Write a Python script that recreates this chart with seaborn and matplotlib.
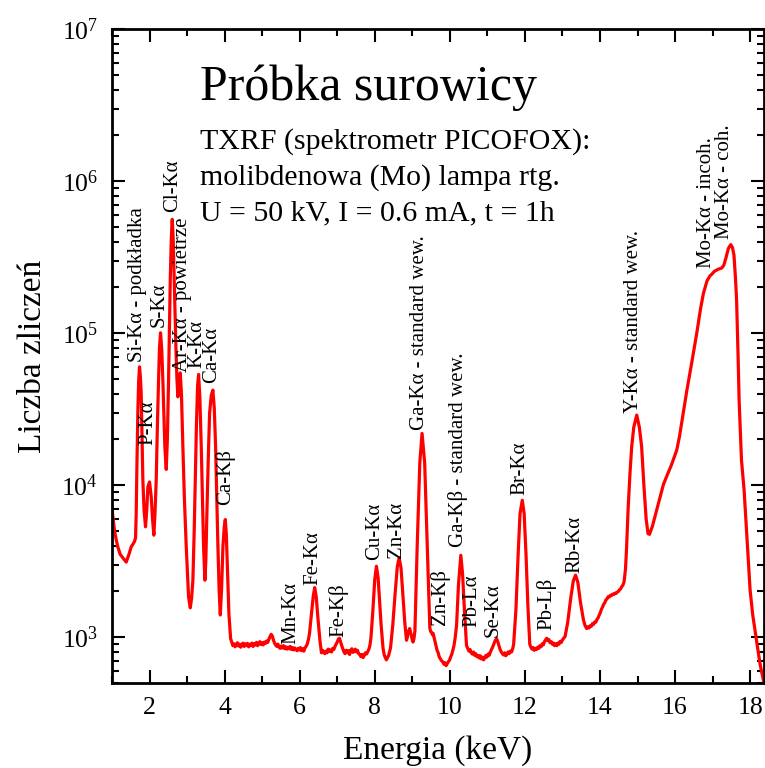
import numpy as np
import pandas as pd
import matplotlib
matplotlib.use('Agg')
import matplotlib.pyplot as plt
import seaborn as sns
from matplotlib.ticker import MultipleLocator, LogLocator, NullFormatter

# ---- spectrum ----
energy_kev = [
    1.005, 1.03, 1.067, 1.11, 1.155, 1.22, 1.30, 1.379, 1.45, 1.512, 1.56, 1.60, 1.627,
    1.645, 1.665, 1.688, 1.71, 1.733, 1.755, 1.778, 1.80, 1.822, 1.855, 1.893, 1.925,
    1.955, 2.0, 2.045, 2.08, 2.115, 2.145, 2.178, 2.21, 2.24, 2.265, 2.293, 2.325, 2.355,
    2.385, 2.408, 2.445, 2.475, 2.507, 2.532, 2.552, 2.58, 2.605, 2.63, 2.658, 2.68,
    2.702, 2.73, 2.755, 2.785, 2.818, 2.85, 2.888, 2.93, 2.978, 3.04, 3.085, 3.12, 3.155,
    3.19, 3.218, 3.25, 3.28, 3.307, 3.34, 3.378, 3.41, 3.44, 3.475, 3.50, 3.528, 3.565,
    3.6, 3.645, 3.688, 3.725, 3.76, 3.79, 3.822, 3.855, 3.885, 3.92, 3.955, 3.99, 4.018,
    4.045, 4.072, 4.115, 4.16,
    4.19, 4.22, 4.25, 4.28, 4.31, 4.34, 4.37, 4.40, 4.43, 4.46, 4.49, 4.52, 4.55, 4.58,
    4.61, 4.64, 4.67, 4.70, 4.73, 4.76, 4.79, 4.82, 4.85, 4.88, 4.91, 4.94, 4.97, 5.00,
    5.03, 5.06, 5.09, 5.12, 5.15, 5.18, 5.21, 5.24, 5.27, 5.30, 5.33, 5.36, 5.39, 5.42,
    5.45, 5.48, 5.51, 5.54, 5.57, 5.60, 5.63, 5.66, 5.69, 5.72, 5.75, 5.78, 5.81, 5.84,
    5.87, 5.90, 5.93, 5.96, 5.99, 6.02, 6.05, 6.08, 6.11, 6.14, 6.17, 6.20, 6.23, 6.26,
    6.31, 6.36, 6.4, 6.44, 6.49, 6.54,
    6.58, 6.61, 6.64, 6.67, 6.70, 6.73, 6.76, 6.79, 6.82, 6.85, 6.88, 6.91, 6.94, 6.97,
    7.0, 7.03, 7.06, 7.09, 7.12, 7.15, 7.18, 7.21, 7.24, 7.27, 7.30, 7.33, 7.36, 7.39,
    7.42, 7.45, 7.48, 7.51, 7.54, 7.57, 7.60, 7.63, 7.66, 7.69, 7.72, 7.75, 7.78, 7.81,
    7.84, 7.87, 7.9, 7.95, 8.0, 8.045, 8.09, 8.13, 8.17, 8.22, 8.25, 8.28, 8.31,
    8.34, 8.37, 8.42, 8.48, 8.54, 8.6, 8.65, 8.7, 8.75, 8.8, 8.845, 8.87, 8.89, 8.91,
    8.93, 8.95, 8.97, 9.0, 9.02, 9.045, 9.07, 9.13, 9.2, 9.26, 9.33, 9.4, 9.467, 9.49,
    9.51, 9.535, 9.555, 9.58, 9.6, 9.63, 9.66, 9.69, 9.72, 9.75, 9.78, 9.81, 9.84, 9.87,
    9.90, 9.93, 9.96, 9.99, 10.02, 10.05, 10.08, 10.11, 10.14, 10.18, 10.23, 10.293,
    10.34, 10.39,
    10.445, 10.48, 10.51, 10.54, 10.57, 10.60, 10.63, 10.66, 10.69, 10.72, 10.75, 10.78,
    10.81, 10.84, 10.87, 10.90, 10.93, 10.96, 10.99, 11.02, 11.05, 11.08, 11.11, 11.14,
    11.17, 11.2, 11.245, 11.28, 11.31, 11.34, 11.37, 11.40, 11.43, 11.46, 11.49, 11.52,
    11.55, 11.58, 11.61, 11.645, 11.68, 11.7, 11.76, 11.82, 11.87, 11.93, 11.98, 12.03,
    12.08,
    12.13, 12.16, 12.19, 12.22, 12.25, 12.28, 12.31, 12.34, 12.37, 12.40, 12.43, 12.46,
    12.49, 12.52, 12.55, 12.58, 12.61, 12.64, 12.67, 12.70, 12.73, 12.76, 12.79, 12.82,
    12.85, 12.88, 12.91, 12.94, 12.97, 13.0, 13.04, 13.07, 13.14, 13.22, 13.29, 13.35,
    13.41, 13.48, 13.56, 13.6,
    13.645, 13.68, 13.71, 13.74, 13.77, 13.80, 13.83, 13.86, 13.89, 13.92, 13.95, 13.98,
    14.01, 14.04, 14.07, 14.10, 14.13, 14.16, 14.19, 14.22, 14.25, 14.28, 14.31, 14.34,
    14.37, 14.40, 14.43, 14.46, 14.49, 14.52, 14.55, 14.58, 14.61, 14.64,
    14.68, 14.71, 14.75, 14.8, 14.845, 14.9, 14.98, 15.05,
    15.11, 15.17, 15.23, 15.28, 15.32, 15.4, 15.5, 15.6, 15.69, 15.8, 15.9, 16.0,
    16.045, 16.12, 16.2, 16.31, 16.45, 16.58, 16.68, 16.755, 16.85, 16.93, 16.98, 17.05,
    17.15, 17.245, 17.3, 17.36, 17.42, 17.485, 17.53, 17.57, 17.61, 17.64, 17.68,
    17.707, 17.74, 17.77, 17.84, 17.92, 18.0, 18.07, 18.13, 18.2, 18.27, 18.37,
]
counts = [
    6850, 6000, 5040, 4400, 3930, 3500, 3300, 3120, 3500, 3930, 4100, 4270, 4500,
    6510, 14000, 29700, 48000, 60000, 52000, 40100, 20000, 10800, 6800, 5320, 6800,
    9700, 10500, 8380, 6000, 4690, 6500, 10800, 25000, 49000, 80000, 100500, 78000, 49000,
    28000, 17900, 12700, 20000, 49000, 110000, 223000, 420000, 560000, 420000, 223000, 130000,
    81600, 50000, 38100, 48000, 54800, 40000, 17900, 8000, 3930, 1840, 1560, 1800, 2370,
    5000, 10800, 25000, 45000, 53500, 38000, 17900, 8000, 3930, 2370, 3200, 6510, 15000,
    29700, 39000, 42200, 32000, 17900, 8500, 3930, 2000, 1400, 2100, 3930, 5300, 5940,
    4800, 3050, 1420, 980,
    930, 880, 905, 865, 900, 920, 875, 900, 860, 895, 915, 870, 905, 880,
    910, 865, 900, 880, 915, 870, 905, 890, 925, 880, 910, 935, 895, 920,
    890, 930, 910, 945, 925, 970, 1010, 1045, 1020, 960, 915, 890, 870, 900,
    860, 845, 875, 850, 880, 840, 865, 835, 860, 840, 870, 830, 855, 825,
    850, 830, 815, 845, 825, 855, 815, 840, 810, 850, 870, 900, 960, 1050,
    1400, 1850, 2120, 1850, 1300, 950,
    790, 820, 795, 780, 810, 790, 835, 805, 825, 800, 845, 830, 870, 900,
    930, 970, 985, 930, 880, 840, 800, 780, 820, 790, 815, 770, 820, 840,
    795, 810, 835, 800, 820, 780, 770, 745, 770, 735, 760, 790, 775, 800,
    830, 880, 1000, 1500, 2400, 2930, 2450, 1700, 1200, 850, 770, 735, 710,
    735, 760, 850, 1200, 1900, 2900, 3330, 2850, 1900, 1250, 955, 1000, 1080, 1110,
    1140, 1090, 1040, 960, 930, 980, 1100, 3930, 14000, 21900, 14000, 3930, 1150, 1090,
    1080, 1040, 1060, 1000, 950, 880, 820, 790, 740, 720, 700, 690, 665, 680,
    650, 670, 690, 705, 740, 770, 820, 880, 980, 1200, 2200, 3460,
    2600, 1500,
    880, 840, 810, 830, 790, 775, 800, 760, 780, 745, 760, 730,
    755, 720, 740, 710, 730, 760, 740, 775, 760, 800, 830, 860,
    900, 940, 980, 930, 880, 830, 800, 780, 765, 790, 755, 770,
    800, 780, 810, 800, 850, 900, 1500, 3500, 6500, 7960, 6500, 3500,
    1600,
    900, 860, 835, 855, 820, 845, 830, 860, 845, 880, 865, 905,
    890, 935, 960, 985, 950, 965, 920, 935, 900, 915, 880, 905,
    880, 915, 900, 940, 925, 960, 990, 1010, 1250, 1800, 2350, 2560,
    2300, 1700, 1300, 1200,
    1140, 1170, 1150, 1190, 1180, 1230, 1215, 1260, 1255, 1310, 1340, 1400,
    1450, 1530, 1580, 1650, 1690, 1760, 1790, 1850, 1840, 1890, 1880, 1920,
    1910, 1950, 1940, 1980, 2000, 2050, 2080, 2150, 2200, 2300,
    2800, 3930, 7000, 12000, 17900, 24000, 28900, 24000,
    17900, 10000, 6000, 4800, 4750, 5400, 6700, 8300, 10100, 11800, 13500, 15800,
    17000, 21000, 28000, 41300, 65000, 100400, 145000, 182000, 220000, 238000, 244000, 255000,
    263000, 268000, 280000, 315000, 360000, 382000, 365000, 326000, 230000, 165000, 70000,
    36200, 22000, 14600, 9270, 4340, 2040, 1400, 1110, 850, 655, 500,
]

# ---- peak labels ----
peak_names = [
    "Si-Kα - podkładka", "P-Kα", "S-Kα", "Cl-Kα", "Ar-Kα - powietrze", "K-Kα",
    "Ca-Kα", "Ca-Kβ", "Mn-Kα", "Fe-Kα", "Fe-Kβ", "Cu-Kα", "Zn-Kα",
    "Ga-Kα - standard wew.", "Zn-Kβ", "Ga-Kβ - standard wew.", "Pb-Lα", "Se-Kα",
    "Br-Kα", "Pb-Lβ", "Rb-Kα", "Y-Kα - standard wew.", "Mo-Kα - incoh.", "Mo-Kα - coh.",
]
peak_label_energy = [
    1.69, 1.955, 2.267, 2.605, 2.87, 3.26,
    3.65, 4.027, 5.778, 6.34, 7.02, 8.0, 8.578,
    9.2, 9.733, 10.22, 10.58, 11.155,
    11.867, 12.58, 13.33, 14.89, 16.845, 17.33,
]
peak_label_counts = [
    64400, 18300, 110000, 625000, 55600, 58600,
    46700, 7380, 908, 2200, 1000, 3210, 3330,
    23000, 1200, 3930, 1170, 1000,
    8590, 1110, 2630, 29700, 268000, 415000,
]

title_text = "Próbka surowicy"
info_lines = [
    "TXRF (spektrometr PICOFOX):",
    "molibdenowa (Mo) lampa rtg.",
    "U = 50 kV, I = 0.6 mA, t = 1h",
]

sns.set_theme(style="ticks")
plt.rcParams['font.family'] = ['Liberation Serif', 'DejaVu Serif']
plt.rcParams['mathtext.fontset'] = 'custom'
plt.rcParams['mathtext.rm'] = 'Liberation Serif'
plt.rcParams['mathtext.it'] = 'Liberation Serif:italic'
plt.rcParams['mathtext.bf'] = 'Liberation Serif:bold'

W, H = 765, 768
fig = plt.figure(figsize=(W / 100, H / 100), dpi=100)
fig.patch.set_facecolor('white')
ax = fig.add_axes([112 / W, 1 - 683 / H, (764 - 112) / W, (683 - 29) / H])
ax.set_facecolor('white')

df = pd.DataFrame({'E': energy_kev, 'N': counts})
sns.lineplot(data=df, x='E', y='N', color='red', linewidth=2.3, ax=ax,
             estimator=None, sort=False)

ax.set_yscale('log')
ax.set_xlim(1, 18.37)
ax.set_ylim(500, 1e7)
ax.xaxis.set_major_locator(MultipleLocator(2))
ax.xaxis.set_minor_locator(MultipleLocator(1))
ax.yaxis.set_major_locator(LogLocator(base=10))
ax.yaxis.set_minor_locator(LogLocator(base=10, subs=np.arange(2, 10)))
ax.yaxis.set_minor_formatter(NullFormatter())

ax.tick_params(which='both', direction='in', top=True, right=True,
               width=1.5, color='black', labelsize=18.5, pad=10, labelcolor='black')
ax.tick_params(which='major', length=9.5)
ax.tick_params(which='minor', length=5)
for s in ax.spines.values():
    s.set_linewidth(2)
    s.set_color('black')

ax.set_xlabel('Energia (keV)', fontsize=24, labelpad=12, color='black')
ax.set_ylabel('Liczba zliczeń', fontsize=24, labelpad=10, color='black')

for name, e, c in zip(peak_names, peak_label_energy, peak_label_counts):
    ax.text(e, c, name, rotation=90, ha='center', va='bottom', fontsize=15, color='black')

fig.text(200 / W, 1 - 100 / H, title_text, fontsize=36, ha='left', va='baseline', color='black')
for i, line in enumerate(info_lines):
    fig.text(200 / W, 1 - (148.3 + 36.2 * i) / H, line, fontsize=21.5,
             ha='left', va='baseline', color='black')

fig.savefig('out.png', dpi=100, facecolor='white')
